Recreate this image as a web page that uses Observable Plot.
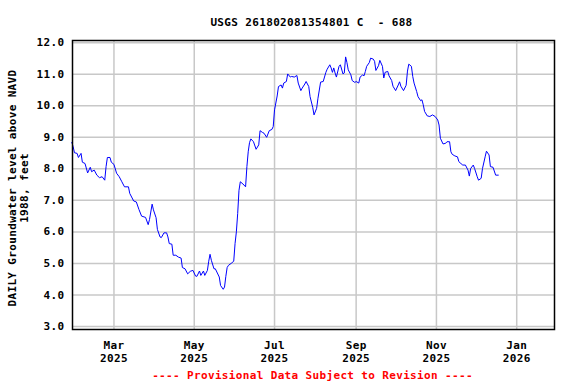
<!DOCTYPE html>
<html>
<head>
<meta charset="utf-8">
<script src="https://cdn.jsdelivr.net/npm/d3@7"></script>
<script src="https://cdn.jsdelivr.net/npm/@observablehq/plot@0.6"></script>
<style>
  html, body { margin: 0; padding: 0; background: #fff; }
  #chart { width: 576px; height: 384px; }
  #chart svg text { letter-spacing: 0.35px; }
</style>
</head>
<body>
<div id="chart"></div>
<script>
const title = "USGS 261802081354801 C  - 688";
const yLabel = "DAILY Groundwater level above NAVD\n1988, feet";
const caption = "---- Provisional Data Subject to Revision ----";

const dates = [
  "2025-01-28","2025-01-29","2025-01-30","2025-02-01","2025-02-02","2025-02-04","2025-02-05","2025-02-07","2025-02-09","2025-02-11",
  "2025-02-12","2025-02-14","2025-02-16","2025-02-18","2025-02-20","2025-02-22","2025-02-23","2025-02-24","2025-02-26","2025-02-27",
  "2025-03-01","2025-03-03","2025-03-05","2025-03-07","2025-03-09","2025-03-12","2025-03-13","2025-03-16","2025-03-18","2025-03-20",
  "2025-03-22","2025-03-25","2025-03-27","2025-03-28","2025-03-30","2025-03-31","2025-04-02","2025-04-03","2025-04-05","2025-04-06",
  "2025-04-08","2025-04-10","2025-04-11","2025-04-12","2025-04-14","2025-04-15","2025-04-17","2025-04-19","2025-04-21","2025-04-22",
  "2025-04-24","2025-04-26","2025-04-28","2025-04-30","2025-05-02","2025-05-03","2025-05-05","2025-05-06","2025-05-08","2025-05-09",
  "2025-05-11","2025-05-12","2025-05-13","2025-05-14","2025-05-16","2025-05-17","2025-05-20","2025-05-21","2025-05-23","2025-05-24",
  "2025-05-25","2025-05-26","2025-05-27","2025-05-29","2025-05-31","2025-06-01","2025-06-02","2025-06-03","2025-06-04","2025-06-05",
  "2025-06-07","2025-06-09","2025-06-10","2025-06-11","2025-06-12","2025-06-13","2025-06-15","2025-06-17","2025-06-19","2025-06-20",
  "2025-06-22","2025-06-23","2025-06-25","2025-06-27","2025-06-29","2025-06-30","2025-07-01","2025-07-03","2025-07-04","2025-07-06",
  "2025-07-07","2025-07-08","2025-07-10","2025-07-11","2025-07-13","2025-07-14","2025-07-16","2025-07-18","2025-07-19","2025-07-21",
  "2025-07-22","2025-07-24","2025-07-25","2025-07-27","2025-07-28","2025-07-30","2025-07-31","2025-08-02","2025-08-03","2025-08-05",
  "2025-08-07","2025-08-09","2025-08-10","2025-08-12","2025-08-13","2025-08-14","2025-08-15","2025-08-16","2025-08-17","2025-08-19",
  "2025-08-20","2025-08-22","2025-08-23","2025-08-24","2025-08-25","2025-08-26","2025-08-28","2025-08-29","2025-08-31","2025-09-01",
  "2025-09-03","2025-09-04","2025-09-06","2025-09-07","2025-09-08","2025-09-09","2025-09-11","2025-09-12","2025-09-14","2025-09-15",
  "2025-09-16","2025-09-18","2025-09-19","2025-09-21","2025-09-22","2025-09-23","2025-09-25","2025-09-26","2025-09-28","2025-09-29",
  "2025-10-01","2025-10-03","2025-10-04","2025-10-05","2025-10-07","2025-10-09","2025-10-10","2025-10-11","2025-10-13","2025-10-14",
  "2025-10-15","2025-10-17","2025-10-18","2025-10-20","2025-10-21","2025-10-22","2025-10-23","2025-10-25","2025-10-27","2025-10-29",
  "2025-10-31","2025-11-02","2025-11-03","2025-11-04","2025-11-06","2025-11-08","2025-11-09","2025-11-11","2025-11-12","2025-11-13",
  "2025-11-15","2025-11-17","2025-11-18","2025-11-19","2025-11-21","2025-11-23","2025-11-25","2025-11-26","2025-11-27","2025-11-29",
  "2025-11-30","2025-12-02","2025-12-03","2025-12-05","2025-12-06","2025-12-08","2025-12-09","2025-12-11","2025-12-12","2025-12-14",
  "2025-12-16","2025-12-18"
];
const levels = [
  8.84,8.70,8.51,8.49,8.36,8.49,8.21,8.17,7.87,8.05,
  7.91,7.96,7.80,7.72,7.75,7.64,8.07,8.36,8.36,8.21,
  8.14,7.86,7.75,7.59,7.43,7.43,7.22,6.98,6.95,6.71,
  6.50,6.46,6.23,6.39,6.88,6.70,6.45,6.08,5.84,5.82,
  5.97,5.97,5.84,5.63,5.61,5.26,5.26,5.20,5.17,4.87,
  4.83,4.67,4.75,4.78,4.60,4.59,4.76,4.62,4.76,4.62,
  4.78,5.07,5.29,5.10,4.83,4.83,4.57,4.30,4.18,4.25,
  4.59,4.87,4.94,5.00,5.07,5.63,6.00,6.58,7.32,7.59,
  7.52,7.43,8.07,8.54,8.83,8.95,8.86,8.62,8.76,9.21,
  9.15,9.13,9.00,9.21,9.25,9.34,9.87,10.31,10.61,10.66,
  10.56,10.72,10.77,11.01,10.91,10.93,10.91,10.96,10.72,10.48,
  10.56,10.69,10.77,10.61,10.29,9.95,9.71,9.92,10.24,10.75,
  10.77,11.06,11.16,11.30,11.20,11.06,11.20,11.04,10.91,11.25,
  11.30,11.01,11.04,11.55,11.37,11.14,10.98,10.80,10.74,10.77,
  10.72,10.91,10.98,10.95,11.09,11.25,11.37,11.51,11.48,11.41,
  11.12,11.27,11.44,11.25,10.88,11.06,11.09,10.95,10.80,10.62,
  10.48,10.66,10.76,10.62,10.48,10.65,11.10,11.32,11.25,10.93,
  10.72,10.45,10.29,10.16,10.19,10.03,9.82,9.68,9.66,9.71,
  9.66,9.55,9.39,8.97,8.79,8.81,8.86,8.86,8.54,8.46,
  8.41,8.38,8.23,8.19,8.12,8.12,7.96,7.77,8.01,8.12,
  8.01,7.75,7.64,7.70,8.01,8.38,8.56,8.44,8.07,8.05,
  7.80,7.80
];
const xTicks = ["2025-03-01","2025-05-01","2025-07-01","2025-09-01","2025-11-01","2026-01-01"];
const monthNames = ["Jan","Feb","Mar","Apr","May","Jun","Jul","Aug","Sep","Oct","Nov","Dec"];
const yTicks = [3,4,5,6,7,8,9,10,11,12];

const data = dates.map((d, i) => ({date: new Date(d + "T00:00:00Z"), level: levels[i]}));
const xTickDates = xTicks.map(d => new Date(d + "T00:00:00Z"));

const FONT = "DejaVu Sans Mono, monospace";

const chart = Plot.plot({
  width: 576,
  height: 384,
  marginTop: 40,
  marginLeft: 72,
  marginRight: 22,
  marginBottom: 55,
  style: {fontFamily: FONT, fontSize: "11px", fontWeight: "bold", background: "#fff", color: "#000"},
  x: {type: "utc", domain: [new Date("2025-01-28T12:00:00Z"), new Date("2026-01-29T17:00:00Z")]},
  y: {domain: [2.905, 12.07]},
  marks: [
    Plot.gridY(yTicks, {stroke: "#c8c8c8", strokeOpacity: 1, strokeWidth: 1.5}),
    Plot.gridX(xTickDates, {stroke: "#c8c8c8", strokeOpacity: 1, strokeWidth: 1.5}),
    Plot.axisY(yTicks, {tickSize: 0, tickPadding: 8, tickFormat: d3.format(".1f"), label: null, fontSize: 11, fontWeight: "bold", fontFamily: FONT}),
    Plot.axisX(xTickDates, {tickSize: 0, tickPadding: 10, label: null, lineHeight: 1.18,
      tickFormat: d => monthNames[d.getUTCMonth()] + "\n" + d.getUTCFullYear(),
      fontSize: 11, fontWeight: "bold", fontFamily: FONT}),
    Plot.line(data, {x: "date", y: "level", stroke: "#0000ff", strokeWidth: 1}),
    Plot.frame({stroke: "#000", strokeWidth: 1.5}),
    Plot.text([title], {frameAnchor: "top", lineAnchor: "bottom", dy: -15, dx: -2, text: d => d,
      fontSize: 11, fontWeight: "bold", fontFamily: FONT, fill: "#000"}),
    Plot.text([caption], {frameAnchor: "bottom", lineAnchor: "bottom", dy: 49, dx: -1, text: d => d,
      fontSize: 11, fontWeight: "bold", fontFamily: FONT, fill: "#ff0000"}),
    Plot.text([yLabel], {frameAnchor: "left", textAnchor: "middle", rotate: -90, dx: -54, dy: 3, text: d => d, lineHeight: 1.1,
      fontSize: 11, fontWeight: "bold", fontFamily: FONT, fill: "#000"})
  ]
});
document.getElementById("chart").appendChild(chart);
</script>
</body>
</html>
